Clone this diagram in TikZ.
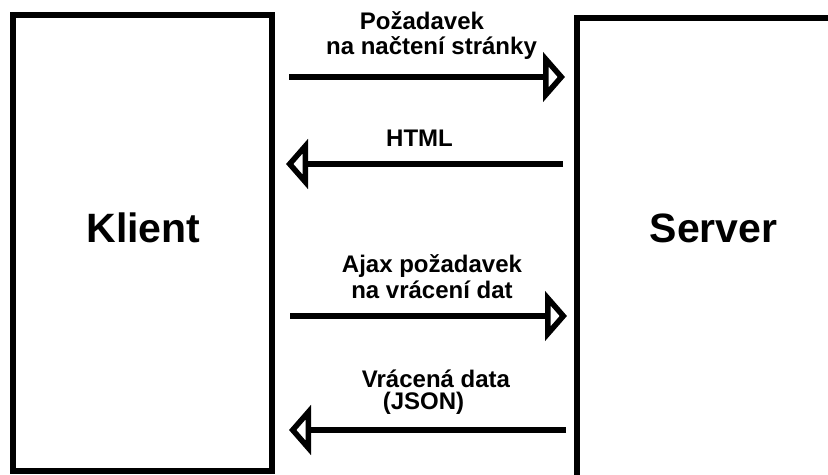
\documentclass[tikz,border=0pt]{standalone}
\usepackage{fontspec}
\setmainfont{Liberation Sans}
\usetikzlibrary{arrows.meta}
\begin{document}
\begin{tikzpicture}[x=1bp,y=-1bp,
  box/.style={draw, line width=6bp, inner sep=0pt, outer sep=0pt},
  title/.style={font=\fontsize{41bp}{49bp}\selectfont\bfseries, inner sep=0pt, anchor=base},
  msglabel/.style={font=\fontsize{24bp}{26bp}\selectfont\bfseries, inner sep=0pt, anchor=base, align=center},
  msg/.style={line width=6bp, line join=miter, -{Triangle[open, length=22bp, width=49bp]}},
]
\useasboundingbox (0,0) rectangle (828,475);
\clip (0,0) rectangle (828,475);

% the two parties
\node[box, minimum width=259bp, minimum height=456bp] (klient) at (142.5,243) {};
\node[box, minimum width=273bp, minimum height=462bp] (server) at (713.5,249) {};
\node[title] (klientname) at (143.5,243) {Klient};
\node[title] (servername) at (713.5,243) {Server};

% ends of the message arrows
\coordinate (req-from)  at (289,77);
\coordinate (req-to)    at (565,77);
\coordinate (html-from) at (563,164);
\coordinate (html-to)   at (286,164);
\coordinate (ajax-from) at (290,316);
\coordinate (ajax-to)   at (567,316);
\coordinate (data-from) at (566,430);
\coordinate (data-to)   at (289,430);

\draw[msg] (req-from) -- (req-to);
\draw[msg] (html-from) -- (html-to);
\draw[msg] (ajax-from) -- (ajax-to);
\draw[msg] (data-from) -- (data-to);

% message labels (anchored at the baseline of their last line)
\node[msglabel] (reqlabel)  at (431.5,55) {Požadavek\hspace*{19bp}\\[-1bp]na načtení stránky};
\node[msglabel] (htmllabel) at (419.5,147) {HTML};
\node[msglabel] (ajaxlabel) at (432,298.5) {Ajax požadavek\\na vrácení dat};
\node[msglabel] (datalabel) at (436,409.5) {Vrácená data\\[-4bp](JSON)\hspace*{25bp}};
\end{tikzpicture}
\end{document}
